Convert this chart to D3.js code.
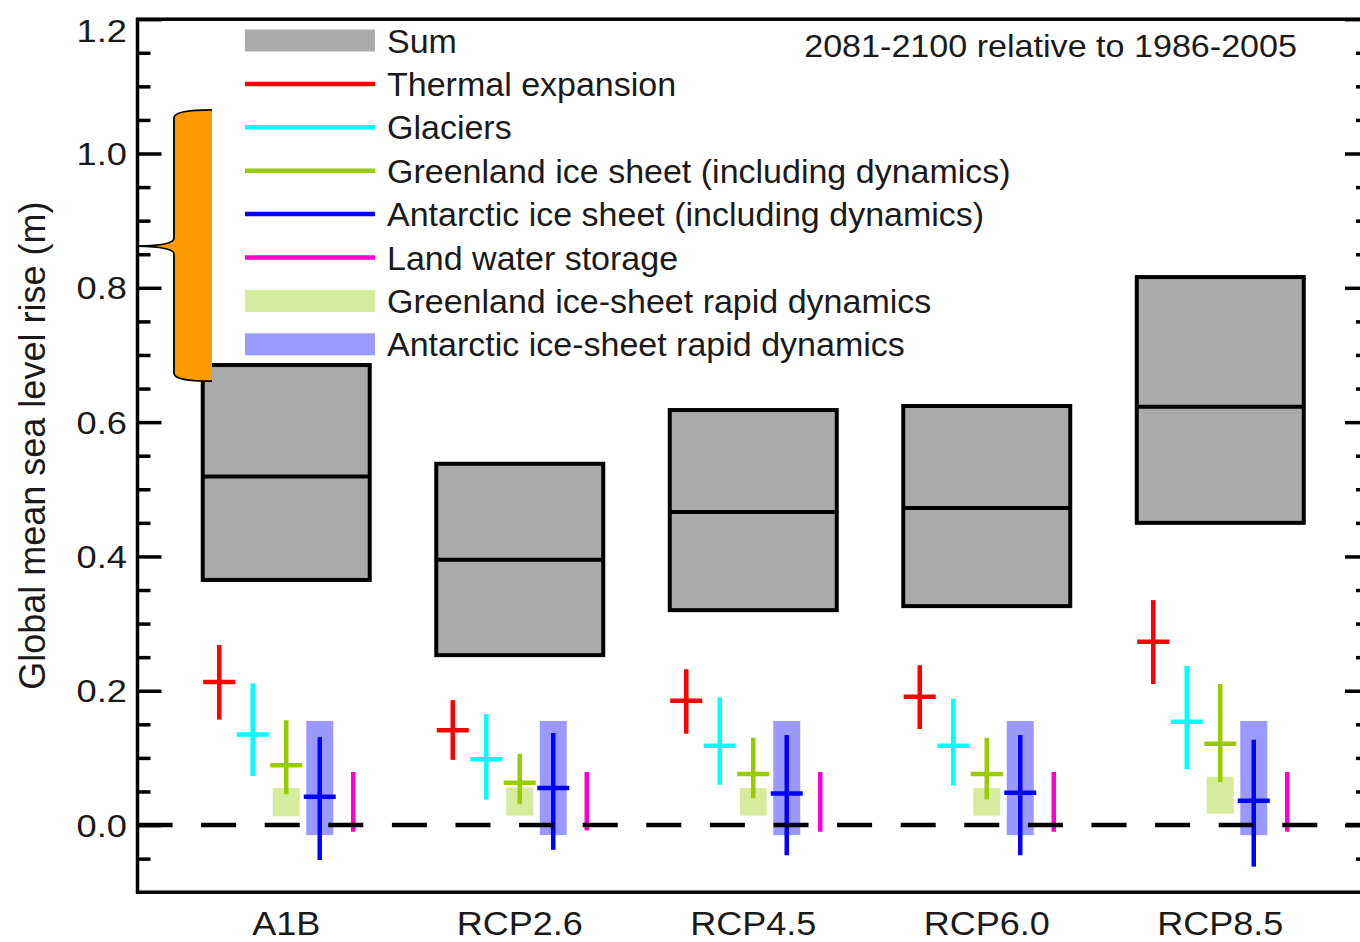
<!DOCTYPE html>
<html>
<head>
<meta charset="utf-8">
<script src="https://cdn.jsdelivr.net/npm/d3@7"></script>
<style>
  html, body { margin: 0; padding: 0; background: #fff; }
  svg { display: block; font-family: "Liberation Sans", Arial, Helvetica, sans-serif; }
</style>
</head>
<body>
<svg id="chart" width="1360" height="942"></svg>
<script>
// Scenarios along the x axis
const categories = ["A1B", "RCP2.6", "RCP4.5", "RCP6.0", "RCP8.5"];

// Sum of all contributions (m): likely range and median
const sumLow    = [0.365, 0.253, 0.320, 0.326, 0.450];
const sumMedian = [0.519, 0.395, 0.466, 0.472, 0.623];
const sumHigh   = [0.685, 0.538, 0.618, 0.624, 0.816];

// Thermal expansion
const thermalLow    = [0.157, 0.097, 0.136, 0.143, 0.210];
const thermalMedian = [0.213, 0.141, 0.185, 0.191, 0.273];
const thermalHigh   = [0.268, 0.186, 0.232, 0.238, 0.335];

// Glaciers
const glaciersLow    = [0.073, 0.038, 0.060, 0.059, 0.083];
const glaciersMedian = [0.135, 0.098, 0.118, 0.118, 0.154];
const glaciersHigh   = [0.211, 0.165, 0.190, 0.188, 0.237];

// Greenland ice sheet (including dynamics)
const greenlandLow    = [0.046, 0.031, 0.040, 0.038, 0.064];
const greenlandMedian = [0.089, 0.063, 0.076, 0.076, 0.121];
const greenlandHigh   = [0.156, 0.106, 0.130, 0.130, 0.210];

// Antarctic ice sheet (including dynamics)
const antarcticLow    = [-0.052, -0.037, -0.045, -0.045, -0.062];
const antarcticMedian = [0.042, 0.055, 0.047, 0.048, 0.036];
const antarcticHigh   = [0.131, 0.137, 0.134, 0.134, 0.127];

// Land water storage (range only)
const landLow  = [-0.010, -0.008, -0.010, -0.010, -0.010];
const landHigh = [0.079, 0.079, 0.079, 0.079, 0.079];

// Rapid ice-sheet dynamics ranges
const grRapidLow  = [0.013, 0.014, 0.014, 0.014, 0.017];
const grRapidHigh = [0.055, 0.056, 0.055, 0.055, 0.072];
const anRapidLow  = [-0.015, -0.015, -0.015, -0.015, -0.015];
const anRapidHigh = [0.155, 0.155, 0.155, 0.155, 0.155];

// Axis ticks
const majorTicks = [0.0, 0.2, 0.4, 0.6, 0.8, 1.0, 1.2];
const minorTicks = [-0.05, 0.05, 0.1, 0.15, 0.25, 0.3, 0.35, 0.45, 0.5, 0.55,
                    0.65, 0.7, 0.75, 0.85, 0.9, 0.95, 1.05, 1.1, 1.15];

// Legend entries
const legendLabels = ["Sum", "Thermal expansion", "Glaciers",
  "Greenland ice sheet (including dynamics)", "Antarctic ice sheet (including dynamics)",
  "Land water storage", "Greenland ice-sheet rapid dynamics", "Antarctic ice-sheet rapid dynamics"];
const legendKinds = ["box", "line", "line", "line", "line", "line", "box", "box"];

const periodLabel = "2081-2100 relative to 1986-2005";
const yLabel = "Global mean sea level rise (m)";

// Bracket annotation (data units on the y axis)
const braceTop = 1.065, braceTip = 0.862, braceBottom = 0.661;

// ---- styling ----
const colors = {
  sum: "#aaaaaa", thermal: "#ff0000", glaciers: "#00ffff", greenland: "#99cc00",
  antarctic: "#0000ff", land: "#ff00cc", grRapid: "#d6eb9e", anRapid: "#9999ff"
};
const legendColors = [colors.sum, colors.thermal, colors.glaciers, colors.greenland,
  colors.antarctic, colors.land, colors.grRapid, colors.anRapid];
const textColor = "#1a1a1a";

const svg = d3.select("#chart");
const plotLeft = 137.5, plotRight = 1369, plotTop = 19.2, plotBottom = 892.2;

const y = d3.scaleLinear().domain([-0.1, 1.2]).range([plotBottom, plotTop]);
const x = d3.scalePoint().domain(categories).range([plotLeft, plotRight]).padding(0.637);
const components = ["thermal", "glaciers", "greenland", "antarctic", "land"];
const xc = d3.scalePoint().domain(components).range([-67, 67]);

const boxHalf = 83.5, rapidHalf = 13.5, crossHalf = 16, lineW = 4.5;

const rows = categories.map((c, i) => ({ c, i }));

// Sum boxes with median line
const sumG = svg.append("g");
sumG.selectAll("rect").data(rows).join("rect")
  .attr("x", d => x(d.c) - boxHalf)
  .attr("width", boxHalf * 2)
  .attr("y", d => y(sumHigh[d.i]))
  .attr("height", d => y(sumLow[d.i]) - y(sumHigh[d.i]))
  .attr("fill", colors.sum).attr("stroke", "#000").attr("stroke-width", 4);
sumG.selectAll("line").data(rows).join("line")
  .attr("x1", d => x(d.c) - boxHalf).attr("x2", d => x(d.c) + boxHalf)
  .attr("y1", d => y(sumMedian[d.i])).attr("y2", d => y(sumMedian[d.i]))
  .attr("stroke", "#000").attr("stroke-width", 4);

// Rapid dynamics shaded ranges
const rapidG = svg.append("g");
function rapidBoxes(comp, lo, hi, color) {
  rapidG.append("g").selectAll("rect").data(rows).join("rect")
    .attr("x", d => x(d.c) + xc(comp) - rapidHalf)
    .attr("width", rapidHalf * 2)
    .attr("y", d => y(hi[d.i]))
    .attr("height", d => y(lo[d.i]) - y(hi[d.i]))
    .attr("fill", color);
}
rapidBoxes("greenland", grRapidLow, grRapidHigh, colors.grRapid);
rapidBoxes("antarctic", anRapidLow, anRapidHigh, colors.anRapid);

// Component ranges (vertical) with median ticks (horizontal)
const compG = svg.append("g");
function crosses(comp, lo, med, hi, color) {
  const g = compG.append("g");
  g.selectAll("line.v").data(rows).join("line").attr("class", "v")
    .attr("x1", d => x(d.c) + xc(comp)).attr("x2", d => x(d.c) + xc(comp))
    .attr("y1", d => y(hi[d.i])).attr("y2", d => y(lo[d.i]))
    .attr("stroke", color).attr("stroke-width", lineW);
  if (med) {
    g.selectAll("line.h").data(rows).join("line").attr("class", "h")
      .attr("x1", d => x(d.c) + xc(comp) - crossHalf).attr("x2", d => x(d.c) + xc(comp) + crossHalf)
      .attr("y1", d => y(med[d.i])).attr("y2", d => y(med[d.i]))
      .attr("stroke", color).attr("stroke-width", lineW);
  }
}
crosses("thermal", thermalLow, thermalMedian, thermalHigh, colors.thermal);
crosses("glaciers", glaciersLow, glaciersMedian, glaciersHigh, colors.glaciers);
crosses("greenland", greenlandLow, greenlandMedian, greenlandHigh, colors.greenland);
crosses("antarctic", antarcticLow, antarcticMedian, antarcticHigh, colors.antarctic);
crosses("land", landLow, null, landHigh, colors.land);

// Zero reference line
svg.append("line")
  .attr("x1", plotLeft).attr("x2", plotRight).attr("y1", y(0)).attr("y2", y(0))
  .attr("stroke", "#000").attr("stroke-width", 4.5)
  .attr("stroke-dasharray", "35 28.6");

// Axes: inward ticks on left and right
function tickAxis(axisFn, xPos, values, size) {
  const g = svg.append("g").attr("transform", `translate(${xPos},0)`)
    .call(axisFn(y).tickValues(values).tickSize(size).tickSizeOuter(0).tickFormat(""));
  g.select(".domain").remove();
  g.selectAll(".tick line").attr("stroke", "#000").attr("stroke-width", 3.5);
  return g;
}
tickAxis(d3.axisLeft, plotLeft, minorTicks, -13);
tickAxis(d3.axisRight, plotRight, minorTicks, -13);
tickAxis(d3.axisRight, plotRight, majorTicks, -24);
const yAxisG = svg.append("g").attr("transform", `translate(${plotLeft},0)`)
  .call(d3.axisLeft(y).tickValues(majorTicks).tickSize(-24).tickSizeOuter(0)
    .tickFormat(d3.format(".1f")));
yAxisG.select(".domain").remove();
yAxisG.selectAll(".tick line").attr("stroke", "#000").attr("stroke-width", 3.5);
yAxisG.selectAll(".tick text")
  .attr("x", 0).attr("dy", "0.36em")
  .attr("font-size", 31).attr("fill", textColor)
  .attr("font-family", "Liberation Sans, Arial, sans-serif")
  .attr("text-anchor", "end")
  .attr("transform", d => `translate(-10.5,${Math.max(0, 30.5 - y(d))}) scale(1.17,1)`);

// Frame
svg.append("rect")
  .attr("x", plotLeft).attr("y", plotTop)
  .attr("width", plotRight - plotLeft).attr("height", plotBottom - plotTop)
  .attr("fill", "none").attr("stroke", "#000").attr("stroke-width", 3.5);

// Category labels
svg.append("g").selectAll("text").data(categories).join("text")
  .attr("transform", d => `translate(${x(d)},934.5) scale(1.06,1)`)
  .attr("text-anchor", "middle").attr("font-size", 34).attr("fill", textColor)
  .text(d => d);

// Y axis title
svg.append("text")
  .attr("transform", `translate(45,${(plotTop + plotBottom) / 2 - 10}) rotate(-90)`)
  .attr("text-anchor", "middle").attr("font-size", 36).attr("fill", textColor)
  .text(yLabel);

// Period note
svg.append("text")
  .attr("transform", "translate(1297,57) scale(1.1,1)")
  .attr("text-anchor", "end").attr("font-size", 31).attr("fill", textColor)
  .text(periodLabel);

// Legend
const legRow0 = 40.5, legStep = 43.4, swX = 245, swW = 130, labX = 387;
const leg = svg.append("g");
legendLabels.forEach((lab, i) => {
  const cy = legRow0 + i * legStep;
  if (legendKinds[i] === "box") {
    leg.append("rect").attr("x", swX).attr("y", cy - 11).attr("width", swW).attr("height", 22)
      .attr("fill", legendColors[i]);
  } else {
    leg.append("line").attr("x1", swX).attr("x2", swX + swW).attr("y1", cy).attr("y2", cy)
      .attr("stroke", legendColors[i]).attr("stroke-width", lineW);
  }
  leg.append("text").attr("x", labX).attr("y", cy + 12)
    .attr("font-size", 34).attr("fill", textColor).text(lab);
});

// Orange curly bracket on the left
const bx0 = 138, bxMid = 174, bxR = 212;
const yT = y(braceTop), yM = y(braceTip), yB = y(braceBottom);
const bracePts = `M${bxR},${yT} C${bxR - 22},${yT} ${bxMid},${yT + 2} ${bxMid},${yT + 8}
  L${bxMid},${yM - 8} C${bxMid},${yM - 3} ${bxMid - 14},${yM - 0.5} ${bx0},${yM}
  C${bxMid - 14},${yM + 0.5} ${bxMid},${yM + 3} ${bxMid},${yM + 8}
  L${bxMid},${yB - 8} C${bxMid},${yB - 2} ${bxR - 22},${yB} ${bxR},${yB}`;
svg.append("path").attr("d", bracePts + " Z").attr("fill", "#ff9900").attr("stroke", "none");
svg.append("path").attr("d", bracePts).attr("fill", "none").attr("stroke", "#000").attr("stroke-width", 1.8);
</script>
</body>
</html>
